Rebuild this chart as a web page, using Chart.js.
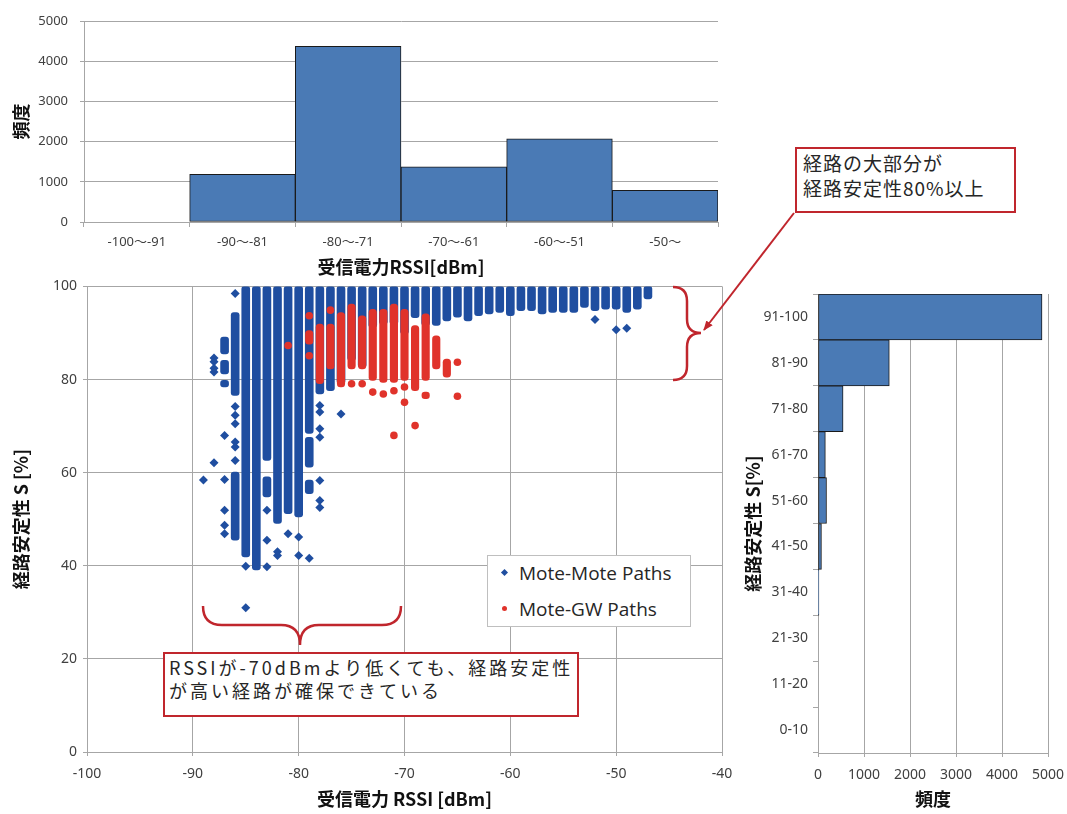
<!DOCTYPE html>
<html>
<head>
<meta charset="utf-8">
<script src="https://cdn.jsdelivr.net/npm/chart.js@4.4.1/dist/chart.umd.min.js"></script>
<style>
body{margin:0;background:#fff;}
#page{position:relative;width:1067px;height:814px;overflow:hidden;background:#fff;font-family:"Noto Sans CJK JP",sans-serif;}
canvas{position:absolute;}
.note{position:absolute;box-sizing:border-box;border:2px solid #c0262d;background:#fff;color:#262626;white-space:nowrap;}
#legend{position:absolute;left:487px;top:555px;width:204px;height:72px;box-sizing:border-box;border:1px solid #bfbfbf;background:#fff;font-family:"Open Sans",sans-serif;font-size:19px;color:#262626;}
#legend div{position:absolute;left:31px;line-height:24px;}
#legend span{position:absolute;left:-17px;top:9px;width:5px;height:5px;}
</style>
</head>
<body>
<div id="page">
  <canvas id="topChart" width="730" height="282" style="left:0;top:0"></canvas>
  <canvas id="mainChart" width="744" height="542" style="left:0;top:272px"></canvas>
  <canvas id="sideChart" width="345" height="534" style="left:730px;top:280px"></canvas>

  <div id="legend">
    <div style="top:5px"><span style="background:#1f4ea0;transform:rotate(45deg)"></span>Mote-Mote Paths</div>
    <div style="top:41px"><span style="background:#e0332b;border-radius:50%"></span>Mote-GW Paths</div>
  </div>

  <svg width="1067" height="814" style="position:absolute;left:0;top:0;pointer-events:none">
    <defs>
      <marker id="ah" markerWidth="10" markerHeight="10" refX="9" refY="5" orient="auto" markerUnits="userSpaceOnUse">
        <path d="M0,1 L10,5 L0,9 z" fill="#c0262d"/>
      </marker>
    </defs>
    <path d="M794,213 L704,330" stroke="#c0262d" stroke-width="2" fill="none" marker-end="url(#ah)"/>
    <path d="M673,287 Q687,287 687,301 L687,319 Q687,333 701,333 Q687,333 687,347 L687,366 Q687,380 673,380" stroke="#c0262d" stroke-width="2.5" fill="none"/>
    <path d="M203,606 Q203,625 222,625 L281,625 Q300,625 300,645 Q300,625 319,625 L382,625 Q401,625 401,606" stroke="#c0262d" stroke-width="2.5" fill="none"/>
  </svg>

  <div class="note" style="left:795px;top:147px;width:221px;height:66px;padding:1px 6px;font-size:19px;line-height:25px;letter-spacing:1px">経路の大部分が<br>経路安定性80%以上</div>
  <div class="note" style="left:163px;top:652px;width:416px;height:65px;padding:2px 4px;font-size:18px;line-height:23px;letter-spacing:3px">RSSIが-70dBmより低くても、経路安定性<br>が高い経路が確保できている</div>
</div>

<script>
// top histogram: RSSI bins
var rssiBins = ['-100～-91', '-90～-81', '-80～-71', '-70～-61', '-60～-51', '-50～'];
var rssiCounts = [0, 1185, 4370, 1370, 2070, 790];

// right histogram: stability bins
var stabBins = ['91-100', '81-90', '71-80', '61-70', '51-60', '41-50', '31-40', '21-30', '11-20', '0-10'];
var stabCounts = [4870, 1550, 545, 160, 185, 75, 20, 0, 0, 0];

// scatter, Mote-Mote: dense runs of points per RSSI column
var mmSegX  = [-87, -87, -87, -86, -86, -85, -84, -83, -83, -82, -81, -80, -79, -79, -79, -78, -77, -76, -75, -74,
               -73, -72, -71, -70, -69, -68, -67, -66, -65, -64, -63, -62, -61, -60, -59, -58, -57, -56, -55, -54,
               -53, -52, -51, -50, -49, -48, -47];
var mmSegLo = [85.5, 81.2, 78.4, 76.6, 45.5, 41.9, 39.1, 62.6, 54.8, 49.1, 51.2, 50.5, 68.4, 61.2, 55.5, 76.9, 77.6, 79.1, 84.1, 82.6,
               91.2, 91.9, 91.9, 89.8, 93.3, 91.6, 91.6, 92.6, 93.4, 92.6, 93.7, 94.1, 94.4, 93.7, 94.8, 94.8, 94.1, 94.4, 94.4, 94.4,
               95.5, 94.8, 95.1, 95.1, 94.4, 95.1, 97.3];
var mmSegHi = [89.1, 84.1, 79.8, 94.4, 60.1, 100, 100, 100, 59.1, 100, 100, 100, 100, 67.6, 58.4, 100, 100, 100, 100, 100,
               100, 100, 100, 100, 100, 100, 100, 100, 100, 100, 100, 100, 100, 100, 100, 100, 100, 100, 100, 100,
               100, 100, 100, 100, 100, 100, 100];
// scatter, Mote-Mote: single points
var mmPtX = [-89, -88, -88, -88, -88, -88, -87, -87, -87, -87, -87, -86, -86, -86, -86, -86, -86, -86,
             -85, -85, -83, -83, -83, -82, -82, -81, -80, -80, -79, -78, -78, -78, -78, -78, -78, -78, -76, -52, -50, -49];
var mmPtY = [58.4, 84.6, 83.8, 82.4, 81.6, 62.1, 68.0, 58.5, 51.9, 48.7, 46.9, 98.5, 74.2, 72.3, 70.5, 66.6, 65.5, 62.6,
             39.9, 31.0, 51.9, 45.5, 39.8, 43.0, 42.2, 46.9, 46.2, 42.2, 41.6, 74.4, 73.0, 69.4, 67.6, 58.3, 54.0, 52.5, 72.6, 92.9, 90.7, 91.0];

// scatter, Mote-GW: dense runs and single points
var gwSegX  = [-79, -78, -77, -76, -75, -74, -73, -72, -71, -70, -69, -68, -68, -67, -66];
var gwSegLo = [87.6, 79.1, 82.3, 78.4, 82.3, 82.3, 79.8, 79.4, 79.4, 79.8, 77.6, 79.8, 75.9, 82.3, 80.5];
var gwSegHi = [90.5, 91.9, 91.9, 94.4, 96.2, 93.7, 95.1, 95.1, 96.2, 95.1, 91.6, 94.1, 77.3, 89.4, 84.4];
var gwPtX = [-81, -79, -79, -77, -75, -74, -73, -72, -71, -71, -70, -70, -69, -65, -65];
var gwPtY = [87.3, 93.7, 85.1, 94.9, 79.1, 79.1, 77.3, 76.9, 77.6, 68.0, 78.4, 75.1, 70.1, 83.7, 76.4];

var BLUE = '#1f4ea0';
var RED = '#e0332b';
var BAR = '#4a7ab5';
var GRID = '#a6a6a6';
var TXT = '#404040';
var tickFont = {family: '"Noto Sans", "Noto Sans CJK JP", sans-serif', size: 14};
var titleFont = {family: '"Noto Sans CJK JP", sans-serif', size: 18, weight: 'bold'};

Chart.defaults.color = TXT;
Chart.defaults.animation = false;

function fixW(w){ return function(s){ s.width = w; }; }
function fixH(h){ return function(s){ s.height = h; }; }
function plain(v){ return String(v); }

// ---- top histogram
new Chart(document.getElementById('topChart'), {
  type: 'bar',
  data: {
    labels: rssiBins,
    datasets: [{
      data: rssiCounts,
      backgroundColor: BAR,
      borderColor: '#1a1a1a',
      borderWidth: 1,
      borderSkipped: false,
      categoryPercentage: 1,
      barPercentage: 1
    }]
  },
  options: {
    responsive: false,
    devicePixelRatio: 1,
    layout: {padding: {top: 21, right: 12, left: 0, bottom: 0}},
    plugins: {legend: {display: false}, tooltip: {enabled: false}},
    scales: {
      x: {
        afterFit: fixH(60),
        grid: {display: true, drawOnChartArea: false, offset: true, tickLength: 5, color: GRID},
        border: {color: GRID},
        ticks: {font: {family: tickFont.family, size: 13}, padding: 7, color: TXT},
        title: {display: true, text: '受信電力RSSI[dBm]', font: titleFont, padding: {top: 0, bottom: 4}, color: '#111'}
      },
      y: {
        afterFit: fixW(84),
        min: 0, max: 5000,
        ticks: {stepSize: 1000, font: {family: tickFont.family, size: 13}, padding: 12, color: TXT, callback: plain},
        grid: {color: GRID, tickLength: 4},
        border: {color: GRID},
        title: {display: true, text: '頻度', font: titleFont, padding: {top: 10, bottom: 0}, color: '#111'}
      }
    }
  }
});

// ---- main scatter
new Chart(document.getElementById('mainChart'), {
  type: 'scatter',
  data: {
    datasets: [
      {
        type: 'scatter',
        order: 0,
        data: gwPtX.map(function(x, i){ return {x: x, y: gwPtY[i]}; }),
        pointStyle: 'circle', pointRadius: 3.8, backgroundColor: RED, borderWidth: 0
      },
      {
        type: 'bar',
        order: 1,
        data: gwSegX.map(function(x, i){ return {x: x, y: [gwSegLo[i], gwSegHi[i]]}; }),
        backgroundColor: RED, borderWidth: 0, borderRadius: 3.5, borderSkipped: false,
        barThickness: 7.5, grouped: false
      },
      {
        type: 'scatter',
        order: 2,
        data: mmPtX.map(function(x, i){ return {x: x, y: mmPtY[i]}; }),
        pointStyle: 'rectRot', pointRadius: 4.5, backgroundColor: BLUE, borderWidth: 0
      },
      {
        type: 'bar',
        order: 3,
        data: mmSegX.map(function(x, i){ return {x: x, y: [mmSegLo[i], mmSegHi[i]]}; }),
        backgroundColor: BLUE, borderWidth: 0, borderRadius: 3, borderSkipped: false,
        barThickness: 8, grouped: false
      }
    ]
  },
  options: {
    responsive: false,
    devicePixelRatio: 1,
    layout: {padding: {top: 10, right: 22, left: 0, bottom: 0}},
    plugins: {legend: {display: false}, tooltip: {enabled: false}},
    scales: {
      x: {
        type: 'linear', min: -100, max: -40, offset: false,
        afterFit: fixH(62),
        ticks: {stepSize: 10, font: tickFont, padding: 10, color: TXT, callback: plain},
        grid: {color: GRID, tickLength: 4, offset: false},
        border: {color: GRID},
        title: {display: true, text: '受信電力 RSSI [dBm]', font: titleFont, padding: {top: 0, bottom: 4}, color: '#111'}
      },
      y: {
        type: 'linear', min: 0, max: 100,
        afterFit: fixW(87),
        ticks: {stepSize: 20, font: tickFont, padding: 6, color: TXT, callback: plain},
        grid: {color: GRID, tickLength: 4},
        border: {color: GRID},
        title: {display: true, text: '経路安定性 S [%]', font: titleFont, padding: {top: 10, bottom: 0}, color: '#111'}
      }
    }
  }
});

// ---- right histogram
new Chart(document.getElementById('sideChart'), {
  type: 'bar',
  data: {
    labels: stabBins,
    datasets: [{
      data: stabCounts,
      backgroundColor: BAR,
      borderColor: '#1a1a1a',
      borderWidth: 1,
      borderSkipped: false,
      categoryPercentage: 1,
      barPercentage: 1
    }]
  },
  options: {
    indexAxis: 'y',
    responsive: false,
    devicePixelRatio: 1,
    layout: {padding: {top: 14, right: 27, left: 0, bottom: 0}},
    plugins: {legend: {display: false}, tooltip: {enabled: false}},
    scales: {
      x: {
        min: 0, max: 5000,
        afterFit: fixH(61),
        ticks: {stepSize: 1000, font: tickFont, padding: 10, color: TXT, callback: plain},
        grid: {color: GRID, tickLength: 4},
        border: {color: GRID},
        title: {display: true, text: '頻度', font: titleFont, padding: {top: 0, bottom: 4}, color: '#111'}
      },
      y: {
        afterFit: fixW(88),
        grid: {display: true, drawOnChartArea: false, offset: true, tickLength: 5, color: GRID},
        border: {color: GRID},
        ticks: {font: tickFont, padding: 5, color: TXT},
        title: {display: true, text: '経路安定性 S[%]', font: titleFont, padding: {top: 12, bottom: 0}, color: '#111'}
      }
    }
  }
});
</script>
</body>
</html>
